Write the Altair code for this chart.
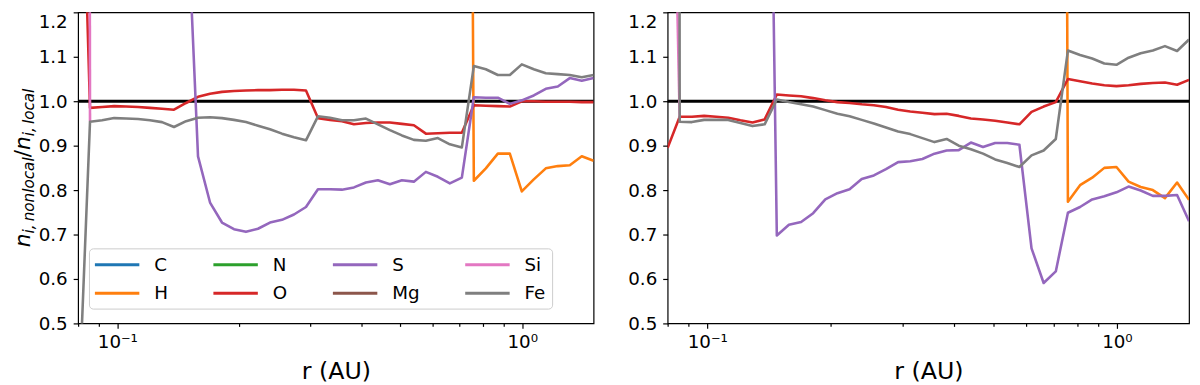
import altair as alt
import pandas as pd

# radial grid (AU), log-spaced
R = [0.0800, 0.0856, 0.0917, 0.0982, 0.1051, 0.1125, 0.1204, 0.1289, 0.1380, 0.1478,
     0.1582, 0.1694, 0.1813, 0.1941, 0.2078, 0.2225, 0.2382, 0.2550, 0.2730, 0.2923,
     0.3129, 0.3350, 0.3586, 0.3839, 0.4110, 0.4400, 0.4711, 0.5043, 0.5399, 0.5780,
     0.6188, 0.6624, 0.7092, 0.7592, 0.8128, 0.8702, 0.9316, 0.9973, 1.0677, 1.1431,
     1.2237, 1.3101, 1.4025, 1.5000]
N = None

# ---- left panel ----
O_L = [1.90, 0.985, 0.987, 0.989, 0.988, 0.987, 0.985, 0.983, 0.981, 0.996,
       1.010, 1.017, 1.021, 1.023, 1.024, 1.025, 1.025, 1.026, 1.026, 1.024,
       0.962, 0.958, 0.955, 0.948, 0.951, 0.952, 0.952, 0.949, 0.946, 0.927,
       0.928, 0.929, 0.929, 0.991, 0.990, 0.989, 0.988, 1.000, 1.000, 0.999,
       0.999, 0.999, 0.998, 0.998]
S_L = [N] * 9 + [1.50, 0.876, 0.772, 0.727, 0.712, 0.706, 0.713, 0.727, 0.733, 0.745,
                 0.762, 0.802, 0.802, 0.801, 0.806, 0.817, 0.822, 0.813, 0.822, 0.819,
                 0.841, 0.830, 0.815, 0.828, 1.009, 1.008, 1.008, 0.994, 1.002, 1.013,
                 1.028, 1.033, 1.052, 1.046, 1.052]
H_L = [N] * 32 + [5.5, 0.821, 0.849, 0.882, 0.882, 0.797, 0.824, 0.849, 0.854, 0.856,
                  0.876, 0.866]
Si_L = [20.0, 0.955] + [N] * 42
Fe_L = [0.28, 0.954, 0.957, 0.962, 0.961, 0.960, 0.957, 0.953, 0.942, 0.955,
        0.963, 0.964, 0.962, 0.958, 0.953, 0.945, 0.937, 0.927, 0.919, 0.912,
        0.966, 0.963, 0.957, 0.957, 0.961, 0.948, 0.935, 0.923, 0.913, 0.911,
        0.917, 0.903, 0.896, 1.079, 1.072, 1.059, 1.059, 1.083, 1.072, 1.063,
        1.061, 1.059, 1.054, 1.059]

# ---- right panel ----
O_R = [0.895, 0.965, 0.965, 0.967, 0.965, 0.963, 0.957, 0.952, 0.959, 1.015,
       1.013, 1.011, 1.007, 1.002, 0.998, 0.996, 0.993, 0.991, 0.987, 0.981,
       0.977, 0.974, 0.971, 0.972, 0.967, 0.961, 0.959, 0.956, 0.952, 0.948,
       0.976, 0.988, 0.998, 1.050, 1.045, 1.040, 1.036, 1.034, 1.036, 1.039,
       1.041, 1.042, 1.037, 1.048]
S_R = [N] * 8 + [2.6, 0.698, 0.722, 0.728, 0.748, 0.779, 0.793, 0.802, 0.825, 0.833,
                 0.847, 0.863, 0.865, 0.870, 0.882, 0.889, 0.890, 0.907, 0.897, 0.906,
                 0.906, 0.902, 0.669, 0.591, 0.617, 0.749, 0.762, 0.779, 0.786, 0.795,
                 0.808, 0.799, 0.787, 0.787, 0.789, 0.730]
H_R = [N] * 32 + [8.0, 0.774, 0.811, 0.828, 0.850, 0.852, 0.819, 0.807, 0.800, 0.782,
                  0.817, 0.778]
Si_R = [2.25, 0.962] + [N] * 42
Fe_R = [40.0, 0.954, 0.953, 0.958, 0.958, 0.958, 0.951, 0.944, 0.948, 1.004,
        0.998, 0.993, 0.988, 0.980, 0.972, 0.966, 0.958, 0.950, 0.941, 0.932,
        0.926, 0.917, 0.908, 0.915, 0.900, 0.892, 0.882, 0.869, 0.861, 0.852,
        0.878, 0.889, 0.915, 1.114, 1.104, 1.096, 1.085, 1.082, 1.098, 1.108,
        1.114, 1.124, 1.113, 1.139]

# legend order (filled column by column, two rows)
ELEMENTS = ['C', 'H', 'N', 'O', 'S', 'Mg', 'Si', 'Fe']
COLORS = ['#1f77b4', '#ff7f0e', '#2ca02c', '#d62728', '#9467bd', '#8c564b', '#e377c2', '#7f7f7f']
DRAW_ORDER = ['H', 'O', 'S', 'Si', 'Fe']
REF_LINE = [1.0]
Y_TICKS = [0.5, 0.6, 0.7, 0.8, 0.9, 1.0, 1.1, 1.2]
X_TICKS = [0.08, 0.09, 0.1, 0.2, 0.3, 0.4, 0.5, 0.6, 0.7, 0.8, 0.9, 1.0]

FONT = 'DejaVu Sans'
PLOT_H = 315


def frame(series):
    rows = []
    for el, vals in series.items():
        for r, v in zip(R, vals):
            if v is not None:
                rows.append({'r': r, 'v': v, 'el': el})
    return pd.DataFrame(rows)


df_left = frame({'H': H_L, 'O': O_L, 'S': S_L, 'Si': Si_L, 'Fe': Fe_L})
df_right = frame({'H': H_R, 'O': O_R, 'S': S_R, 'Si': Si_R, 'Fe': Fe_R})

x_scale = alt.Scale(type='log', domain=[0.08, 1.5], nice=False)
y_scale = alt.Scale(domain=[0.5, 1.2], nice=False, zero=False)
c_scale = alt.Scale(domain=ELEMENTS, range=COLORS)

x_axis = alt.Axis(
    values=X_TICKS,
    labelExpr="datum.value == 0.1 ? '10⁻¹' : (datum.value == 1 ? '10⁰' : '')",
    title='r (AU)', titleFontSize=24, titleFont=FONT, titleFontWeight='normal',
    titleColor='black', titlePadding=9,
    grid=False, domain=False,
    tickSize={'condition': {'test': 'datum.value == 0.1 || datum.value == 1', 'value': 5}, 'value': 3},
    tickColor='black', tickWidth=1.2,
    labelFontSize=18.5, labelFont=FONT, labelColor='black', labelPadding=4,
    labelFlush=False, labelOverlap=False,
)
y_axis = alt.Axis(
    values=Y_TICKS, format='.1f', title=None, grid=False, domain=False,
    tickSize=5, tickWidth=1.2, tickColor='black',
    labelFontSize=18.5, labelFont=FONT, labelColor='black', labelPadding=6,
    labelFlush=False,
    labelBaseline={'condition': {'test': 'datum.value > 1.15', 'value': 'top'}, 'value': 'middle'},
)

legend = alt.Legend(
    orient='none', legendX=11, legendY=239, columns=4, title=None,
    symbolType='M-2.5,0H2.5', symbolSize=324, symbolStrokeWidth=3, symbolOffset=12,
    labelOffset=27, labelFontSize=18.5, labelFont=FONT, labelColor='black', labelLimit=200,
    columnPadding=40, rowPadding=9, padding=6,
    fillColor='rgba(255,255,255,0.8)', strokeColor='#cccccc', cornerRadius=4,
)


def ylabel_piece(text, size, x, y, italic=True):
    return alt.Chart(pd.DataFrame({'t': [text]})).mark_text(
        angle=270, align='left', baseline='alphabetic', fontSize=size, font=FONT,
        fontStyle='italic' if italic else 'normal', color='black'
    ).encode(x=alt.value(x), y=alt.value(y), text='t:N')


def panel(df, width, show_legend):
    rule = alt.Chart(pd.DataFrame({'v': REF_LINE})).mark_rule(
        color='black', strokeWidth=3.2
    ).encode(y=alt.Y('v:Q', scale=y_scale, axis=y_axis))
    layers = [rule]
    for el in DRAW_ORDER:
        layers.append(
            alt.Chart(df).transform_filter(alt.datum.el == el).mark_line(
                clip=True, strokeWidth=2.6, strokeJoin='round'
            ).encode(
                x=alt.X('r:Q', scale=x_scale, axis=x_axis),
                y=alt.Y('v:Q', scale=y_scale, axis=y_axis),
                color=alt.Color('el:N', scale=c_scale, legend=legend if show_legend else None),
            )
        )
    if show_legend:
        big, small = 22, 15.4
        xb = -49          # baseline of the main letters (px from the plot's left edge)
        xs = xb + 4.5     # baseline of the subscripts
        w_n, w_sub1, w_sl, w_sub2 = 0.634 * big, 5.007 * small, 0.337 * big, 3.127 * small
        total = 2 * w_n + w_sub1 + w_sl + w_sub2
        y0 = PLOT_H / 2 + total / 2
        layers += [
            ylabel_piece('n', big, xb, y0),
            ylabel_piece('i,\u2009nonlocal', small, xs, y0 - w_n),
            ylabel_piece('/', big, xb, y0 - w_n - w_sub1, italic=False),
            ylabel_piece('n', big, xb, y0 - w_n - w_sub1 - w_sl),
            ylabel_piece('i,\u2009local', small, xs, y0 - 2 * w_n - w_sub1 - w_sl),
        ]
    return alt.layer(*layers).properties(width=width, height=PLOT_H)


left = panel(df_left, 522, True)
right = panel(df_right, 528, False)

chart = alt.hconcat(left, right, spacing=30).resolve_scale(
    color='independent'
).resolve_legend(
    color='independent'
).configure_view(
    stroke='black', strokeWidth=1.2
).properties(
    padding={'left': 3, 'top': 0, 'right': 0, 'bottom': 0}
)

chart.save('out.html', embed_options={'renderer': 'svg', 'actions': False})
